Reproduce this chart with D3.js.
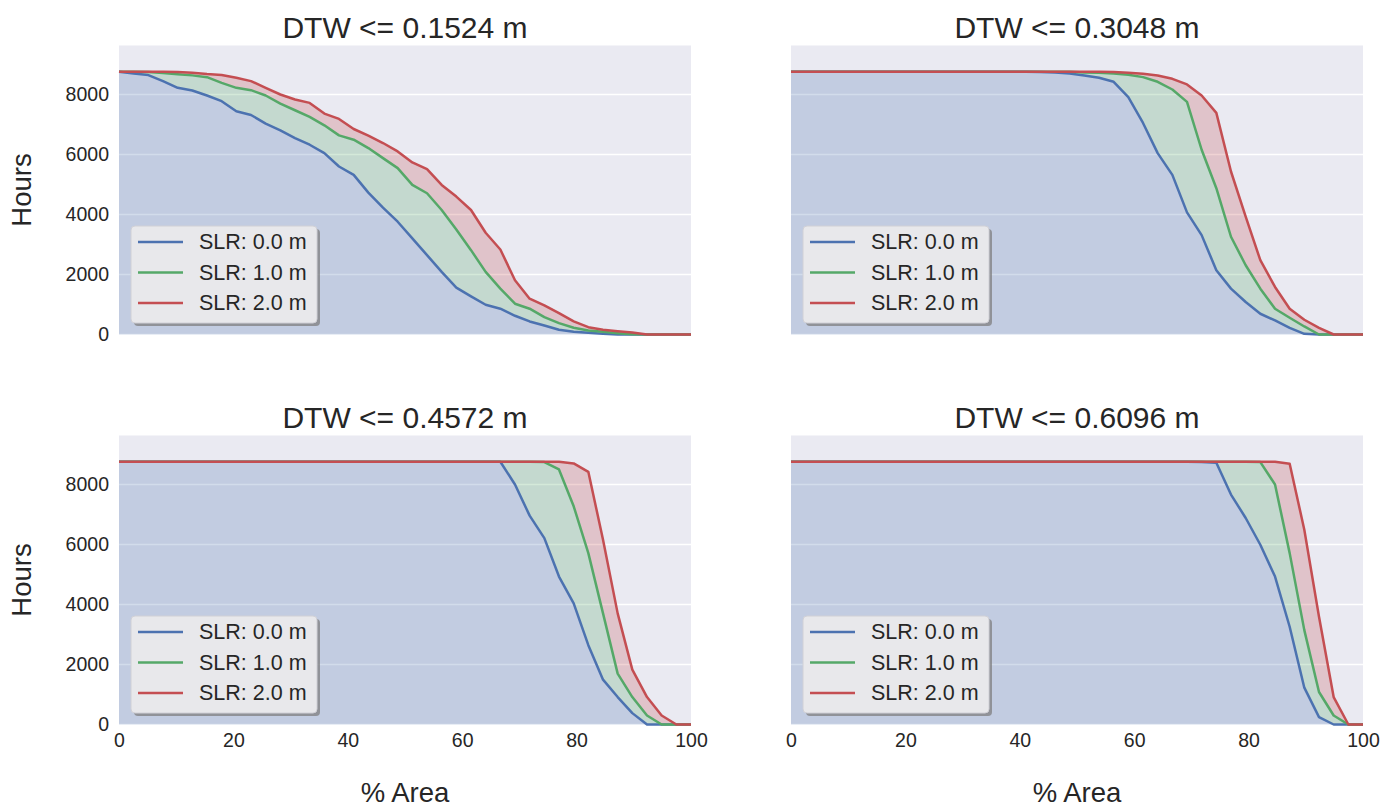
<!DOCTYPE html>
<html>
<head>
<meta charset="utf-8">
<script src="https://cdn.jsdelivr.net/npm/d3@7"></script>
<style>
  html, body { margin: 0; padding: 0; background: #ffffff; }
  svg { display: block; }
  text { font-family: "Liberation Sans", Arial, Helvetica, sans-serif; fill: #262626; }
</style>
</head>
<body>
<svg id="chart" width="1394" height="806"></svg>
<script>
// ---------------- DATA ----------------
const areaPct = [0, 2.56, 5.13, 7.69, 10.26, 12.82, 15.38, 17.95, 20.51, 23.08,
  25.64, 28.21, 30.77, 33.33, 35.90, 38.46, 41.03, 43.59, 46.15, 48.72,
  51.28, 53.85, 56.41, 58.97, 61.54, 64.10, 66.67, 69.23, 71.79, 74.36,
  76.92, 79.49, 82.05, 84.62, 87.18, 89.74, 92.31, 94.87, 97.44, 100];

const seriesNames = ["SLR: 0.0 m", "SLR: 1.0 m", "SLR: 2.0 m"];
const panelTitles = ["DTW <= 0.1524 m", "DTW <= 0.3048 m", "DTW <= 0.4572 m", "DTW <= 0.6096 m"];
const yTicks = [0, 2000, 4000, 6000, 8000];
const xTicks = [0, 20, 40, 60, 80, 100];

// DTW <= 0.1524 m
const p1_slr0 = [8760, 8700, 8650, 8450, 8225, 8135, 7968, 7779, 7444, 7320, 7030, 6808, 6550, 6328, 6049, 5602, 5323, 4732, 4230, 3761, 3203, 2645, 2087, 1562, 1272, 993, 860, 625, 435, 301, 156, 89, 56, 22, 0, 0, 0, 0, 0, 0];
const p1_slr1 = [8760, 8760, 8750, 8716, 8680, 8640, 8580, 8390, 8225, 8147, 7968, 7700, 7477, 7254, 6975, 6640, 6495, 6216, 5881, 5547, 4988, 4710, 4152, 3504, 2812, 2087, 1529, 1027, 860, 580, 379, 223, 134, 89, 45, 10, 0, 0, 0, 0];
const p1_slr2 = [8760, 8760, 8760, 8760, 8750, 8727, 8682, 8650, 8560, 8448, 8225, 8002, 7834, 7722, 7366, 7187, 6852, 6630, 6384, 6105, 5736, 5513, 4988, 4598, 4152, 3393, 2835, 1808, 1194, 971, 714, 435, 245, 156, 112, 67, 0, 0, 0, 0];

// DTW <= 0.3048 m
const p2_slr0 = [8760, 8760, 8760, 8760, 8760, 8760, 8760, 8760, 8760, 8760, 8760, 8760, 8760, 8760, 8760, 8760, 8760, 8755, 8735, 8705, 8638, 8560, 8426, 7912, 7053, 6049, 5323, 4073, 3314, 2143, 1529, 1083, 692, 469, 223, 22, 0, 0, 0, 0];
const p2_slr1 = [8760, 8760, 8760, 8760, 8760, 8760, 8760, 8760, 8760, 8760, 8760, 8760, 8760, 8760, 8760, 8760, 8760, 8760, 8760, 8760, 8738, 8727, 8705, 8660, 8582, 8426, 8169, 7756, 6160, 4877, 3259, 2310, 1529, 859, 558, 268, 0, 0, 0, 0];
const p2_slr2 = [8760, 8760, 8760, 8760, 8760, 8760, 8760, 8760, 8760, 8760, 8760, 8760, 8760, 8760, 8760, 8760, 8760, 8760, 8760, 8760, 8760, 8760, 8750, 8727, 8694, 8638, 8526, 8337, 7968, 7388, 5435, 3928, 2478, 1585, 859, 491, 223, 0, 0, 0];

// DTW <= 0.4572 m
const p3_slr0 = [8760, 8760, 8760, 8760, 8760, 8760, 8760, 8760, 8760, 8760, 8760, 8760, 8760, 8760, 8760, 8760, 8760, 8760, 8760, 8760, 8760, 8760, 8760, 8760, 8760, 8760, 8760, 8002, 6964, 6216, 4933, 4040, 2645, 1495, 915, 379, 0, 0, 0, 0];
const p3_slr1 = [8760, 8760, 8760, 8760, 8760, 8760, 8760, 8760, 8760, 8760, 8760, 8760, 8760, 8760, 8760, 8760, 8760, 8760, 8760, 8760, 8760, 8760, 8760, 8760, 8760, 8760, 8760, 8760, 8760, 8750, 8504, 7276, 5714, 3705, 1696, 915, 301, 0, 0, 0];
const p3_slr2 = [8760, 8760, 8760, 8760, 8760, 8760, 8760, 8760, 8760, 8760, 8760, 8760, 8760, 8760, 8760, 8760, 8760, 8760, 8760, 8760, 8760, 8760, 8760, 8760, 8760, 8760, 8760, 8760, 8760, 8760, 8760, 8705, 8426, 6160, 3705, 1830, 915, 301, 0, 0];

// DTW <= 0.6096 m
const p4_slr0 = [8760, 8760, 8760, 8760, 8760, 8760, 8760, 8760, 8760, 8760, 8760, 8760, 8760, 8760, 8760, 8760, 8760, 8760, 8760, 8760, 8760, 8760, 8760, 8760, 8760, 8760, 8760, 8760, 8750, 8727, 7667, 6886, 5993, 4933, 3259, 1228, 245, 0, 0, 0];
const p4_slr1 = [8760, 8760, 8760, 8760, 8760, 8760, 8760, 8760, 8760, 8760, 8760, 8760, 8760, 8760, 8760, 8760, 8760, 8760, 8760, 8760, 8760, 8760, 8760, 8760, 8760, 8760, 8760, 8760, 8760, 8760, 8760, 8760, 8750, 8002, 5714, 3147, 1083, 301, 0, 0];
const p4_slr2 = [8760, 8760, 8760, 8760, 8760, 8760, 8760, 8760, 8760, 8760, 8760, 8760, 8760, 8760, 8760, 8760, 8760, 8760, 8760, 8760, 8760, 8760, 8760, 8760, 8760, 8760, 8760, 8760, 8760, 8760, 8760, 8760, 8760, 8760, 8694, 6496, 3594, 915, 0, 0];

// ---------------- LAYOUT / STYLE ----------------
const colors = ["#4C72B0", "#55A868", "#C44E52"];
const panelW = 572, panelH = 289;
const yMax = 9636;
const panels = [
  { title: panelTitles[0], series: [p1_slr0, p1_slr1, p1_slr2], left: 119, top: 45.5, showX: false, showY: true },
  { title: panelTitles[1], series: [p2_slr0, p2_slr1, p2_slr2], left: 791, top: 45.5, showX: false, showY: false },
  { title: panelTitles[2], series: [p3_slr0, p3_slr1, p3_slr2], left: 119, top: 435.5, showX: true, showY: true },
  { title: panelTitles[3], series: [p4_slr0, p4_slr1, p4_slr2], left: 791, top: 435.5, showX: true, showY: false }
];

const svg = d3.select("#chart");
const x = d3.scaleLinear().domain([0, 100]).range([0, panelW]);
const y = d3.scaleLinear().domain([0, yMax]).range([panelH, 0]);

panels.forEach(p => {
  const g = svg.append("g").attr("transform", `translate(${p.left},${p.top})`);

  // background
  g.append("rect").attr("width", panelW).attr("height", panelH).attr("fill", "#EAEAF2");

  // horizontal grid
  g.selectAll("line.grid").data(yTicks).join("line")
    .attr("class", "grid")
    .attr("x1", 0).attr("x2", panelW)
    .attr("y1", d => y(d)).attr("y2", d => y(d))
    .attr("stroke", "#ffffff").attr("stroke-width", 1.5);

  // stacked fills (fill_between previous series and current)
  p.series.forEach((s, k) => {
    const lower = k === 0 ? null : p.series[k - 1];
    const area = d3.area()
      .x((d, i) => x(areaPct[i]))
      .y0((d, i) => y(lower ? lower[i] : 0))
      .y1(d => y(d));
    g.append("path").datum(s)
      .attr("d", area)
      .attr("fill", colors[k]).attr("fill-opacity", 0.25);
  });

  // lines
  p.series.forEach((s, k) => {
    const line = d3.line().x((d, i) => x(areaPct[i])).y(d => y(d));
    g.append("path").datum(s)
      .attr("d", line)
      .attr("fill", "none").attr("stroke", colors[k])
      .attr("stroke-width", 2.5).attr("stroke-linejoin", "round").attr("stroke-linecap", "butt");
  });

  // axes
  if (p.showY) {
    const ay = g.append("g").call(d3.axisLeft(y).tickValues(yTicks).tickSize(0).tickPadding(10).tickFormat(d3.format("d")));
    ay.select(".domain").remove();
    ay.selectAll("text").style("font-size", "19.5px").attr("fill", "#262626");
  }
  if (p.showX) {
    const ax = g.append("g").attr("transform", `translate(0,${panelH})`)
      .call(d3.axisBottom(x).tickValues(xTicks).tickSize(0).tickPadding(9).tickFormat(d3.format("d")));
    ax.select(".domain").remove();
    ax.selectAll("text").style("font-size", "19.5px").attr("fill", "#262626");
    g.append("text").attr("x", panelW / 2).attr("y", panelH + 77)
      .attr("text-anchor", "middle").style("font-size", "27.5px").text("% Area");
  }
  if (p.showY) {
    g.append("text")
      .attr("transform", `translate(${22 - p.left + 9},${panelH / 2}) rotate(-90)`)
      .attr("text-anchor", "middle").style("font-size", "27.5px").text("Hours");
  }

  // title
  g.append("text").attr("x", panelW / 2).attr("y", -8)
    .attr("text-anchor", "middle").style("font-size", "30px").text(p.title);

  // legend
  const lg = g.append("g").attr("transform", "translate(12,180.5)");
  lg.append("rect").attr("x", 3).attr("y", 3).attr("width", 186).attr("height", 97).attr("rx", 4)
    .attr("fill", "#7f7f7f").attr("fill-opacity", 0.75);
  lg.append("rect").attr("width", 186).attr("height", 97).attr("rx", 4)
    .attr("fill", "#E8E8EB").attr("stroke", "#D0D0D6").attr("stroke-width", 1);
  seriesNames.forEach((name, k) => {
    const ly = 16 + k * 30.5;
    lg.append("line").attr("x1", 7).attr("x2", 52).attr("y1", ly).attr("y2", ly)
      .attr("stroke", colors[k]).attr("stroke-width", 2.5);
    lg.append("text").attr("x", 68).attr("y", ly + 7).style("font-size", "21.5px").text(name);
  });
});
</script>
</body>
</html>
